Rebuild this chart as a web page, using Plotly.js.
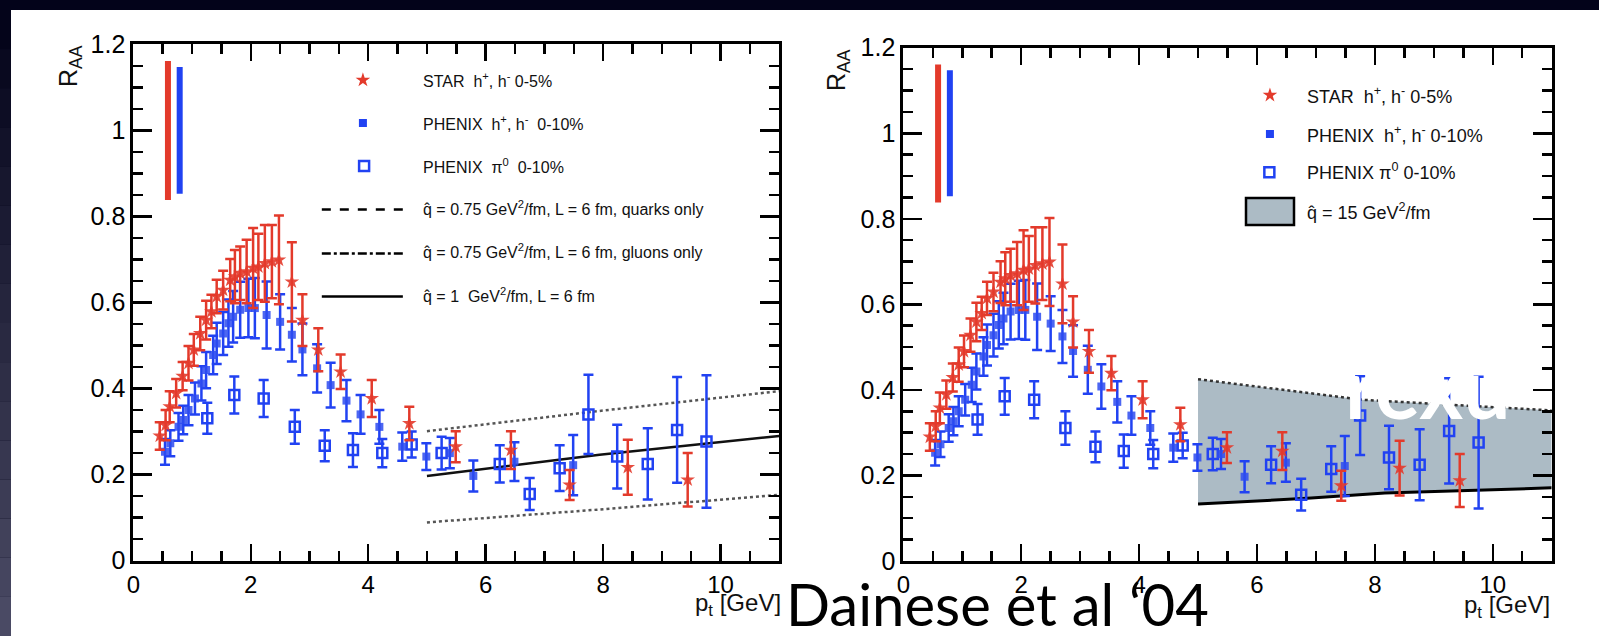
<!DOCTYPE html>
<html>
<head>
<meta charset="utf-8">
<script src="https://cdn.plot.ly/plotly-3.0.1.min.js"></script>
<style>html,body{margin:0;padding:0;background:#03031a;}#chart{width:1599px;height:636px;}</style>
</head>
<body>
<div id="chart"></div>
<script>
// ---------------- DATA ----------------
// STAR h+/h- 0-5%
var starX   = [0.45,0.55,0.62,0.73,0.84,0.94,1.03,1.14,1.24,1.33,1.42,1.53,1.65,1.73,1.82,1.93,2.04,2.13,2.24,2.36,2.48,2.70,2.88,3.15,3.53,4.06,4.70,5.49,6.43,7.43,8.42,9.44];
var starY   = [0.290,0.315,0.358,0.389,0.429,0.459,0.490,0.528,0.559,0.579,0.614,0.629,0.652,0.660,0.668,0.672,0.680,0.683,0.691,0.695,0.699,0.648,0.559,0.490,0.439,0.377,0.319,0.265,0.257,0.176,0.217,0.188];
var starErr = [0.032,0.035,0.036,0.033,0.033,0.040,0.037,0.039,0.045,0.039,0.039,0.045,0.049,0.062,0.062,0.074,0.093,0.077,0.089,0.085,0.103,0.092,0.060,0.050,0.040,0.043,0.039,0.036,0.044,0.035,0.064,0.062];
// PHENIX h+/h- 0-10%
var phxX   = [0.54,0.63,0.77,0.85,0.94,1.05,1.16,1.24,1.36,1.42,1.53,1.62,1.70,1.82,1.96,2.07,2.27,2.50,2.70,2.88,3.13,3.36,3.63,3.87,4.19,4.58,4.99,5.39,5.79,6.49,7.49];
var phxY   = [0.253,0.273,0.311,0.327,0.350,0.377,0.412,0.443,0.478,0.505,0.528,0.552,0.567,0.583,0.587,0.587,0.571,0.555,0.525,0.491,0.447,0.408,0.372,0.340,0.311,0.265,0.242,0.250,0.197,0.230,0.222];
var phxErr = [0.030,0.030,0.032,0.033,0.035,0.037,0.040,0.042,0.045,0.048,0.050,0.055,0.060,0.065,0.068,0.070,0.078,0.064,0.062,0.060,0.056,0.052,0.048,0.045,0.039,0.033,0.031,0.035,0.036,0.045,0.070];
// PHENIX pi0 0-10%
var pi0X   = [1.26,1.72,2.22,2.75,3.26,3.74,4.24,4.74,5.25,6.24,6.75,7.26,7.75,8.24,8.76,9.26,9.76];
var pi0Y   = [0.331,0.385,0.377,0.311,0.267,0.257,0.250,0.270,0.250,0.225,0.155,0.215,0.340,0.242,0.225,0.304,0.277];
var pi0Err = [0.036,0.043,0.043,0.039,0.036,0.039,0.033,0.030,0.038,0.043,0.037,0.053,0.092,0.074,0.083,0.123,0.154];
// normalisation uncertainties (STAR, PHENIX)
var normX   = [0.59, 0.79];
var normLow = [0.838, 0.853];
var normHigh= [1.161, 1.147];
// left panel model curves
var modelX    = [5, 7.94, 11];
var quarksY   = [0.301, 0.348, 0.394];
var gluonsY   = [0.089, 0.119, 0.153];
var q1Y       = [0.197, 0.246, 0.290];
// right panel band qhat = 15 GeV^2/fm
var bandUpX  = [5, 6.05, 6.92, 7.78, 9.52, 11];
var bandUpY  = [0.425, 0.406, 0.392, 0.377, 0.363, 0.352];
var bandLoX  = [5, 6.24, 6.92, 8.17, 8.65, 11];
var bandLoY  = [0.133, 0.143, 0.147, 0.159, 0.161, 0.171];
var xTicks = [0,2,4,6,8,10];
var yTicks = [0,0.2,0.4,0.6,0.8,1,1.2];

// ---------------- STYLE ----------------
var W = 1599, H = 636;
function PX(p){return p/W;}
function PY(p){return 1 - p/H;}
var RED = '#e33a2b', BLUE = '#2142f2';
var FONT = 'Liberation Sans, Arial, sans-serif';

var traces = [];
function addPanel(xa, ya, left){
  traces.push({x:[normX[0],normX[0]], y:[normLow[0],normHigh[0]], xaxis:xa, yaxis:ya, mode:'lines', line:{color:RED,width:6}, hoverinfo:'skip', showlegend:false});
  traces.push({x:[normX[1],normX[1]], y:[normLow[1],normHigh[1]], xaxis:xa, yaxis:ya, mode:'lines', line:{color:BLUE,width:6}, hoverinfo:'skip', showlegend:false});
  if(left){
    traces.push({x:modelX, y:quarksY, xaxis:xa, yaxis:ya, mode:'lines', line:{color:'#555',width:2.5,dash:'dot'}, showlegend:false});
    traces.push({x:modelX, y:gluonsY, xaxis:xa, yaxis:ya, mode:'lines', line:{color:'#555',width:2.5,dash:'dot'}, showlegend:false});
    traces.push({x:modelX, y:q1Y, xaxis:xa, yaxis:ya, mode:'lines', line:{color:'#111',width:2.5}, showlegend:false});
  } else {
    var bx = bandUpX.concat(bandLoX.slice().reverse());
    var by = bandUpY.concat(bandLoY.slice().reverse());
    traces.push({x:bx, y:by, xaxis:xa, yaxis:ya, mode:'lines', fill:'toself', fillcolor:'rgb(172,187,197)', line:{width:0}, showlegend:false});
    traces.push({x:bandUpX, y:bandUpY, xaxis:xa, yaxis:ya, mode:'lines', line:{color:'#333',width:2.5,dash:'dot'}, showlegend:false});
    traces.push({x:bandLoX, y:bandLoY, xaxis:xa, yaxis:ya, mode:'lines', line:{color:'#000',width:3}, showlegend:false});
  }
  traces.push({x:pi0X, y:pi0Y, xaxis:xa, yaxis:ya, mode:'markers', showlegend:false,
    marker:{symbol:'square-open', size:10, color:BLUE, line:{width:2.5,color:BLUE}},
    error_y:{type:'data', array:pi0Err, color:BLUE, thickness:2.5, width:5}});
  traces.push({x:phxX, y:phxY, xaxis:xa, yaxis:ya, mode:'markers', showlegend:false,
    marker:{symbol:'square', size:8, color:'rgba(45,75,240,0.85)'},
    error_y:{type:'data', array:phxErr, color:BLUE, thickness:2.5, width:5}});
  traces.push({x:starX, y:starY, xaxis:xa, yaxis:ya, mode:'markers', showlegend:false,
    marker:{symbol:'star', size:11, color:'rgba(227,58,43,0.9)'},
    error_y:{type:'data', array:starErr, color:RED, thickness:2.5, width:5}});
}
addPanel('x','y',true);
addPanel('x2','y2',false);

// legend symbols (positioned in each panel's data coordinates)
traces.push({x:[3.91], y:[1.117], xaxis:'x', yaxis:'y', mode:'markers', marker:{symbol:'star',size:11,color:RED}, showlegend:false});
traces.push({x:[3.91], y:[1.017], xaxis:'x', yaxis:'y', mode:'markers', marker:{symbol:'square',size:8,color:BLUE}, showlegend:false});
traces.push({x:[3.93], y:[0.917], xaxis:'x', yaxis:'y', mode:'markers', marker:{symbol:'square-open',size:10,color:BLUE,line:{width:2.5,color:BLUE}}, showlegend:false});
traces.push({x:[3.21,4.59], y:[0.816,0.816], xaxis:'x', yaxis:'y', mode:'lines', line:{color:'#000',width:2.5,dash:'dash'}, showlegend:false});
traces.push({x:[3.21,4.59], y:[0.714,0.714], xaxis:'x', yaxis:'y', mode:'lines', line:{color:'#000',width:2.5,dash:'dashdot'}, showlegend:false});
traces.push({x:[3.21,4.59], y:[0.614,0.614], xaxis:'x', yaxis:'y', mode:'lines', line:{color:'#000',width:2.5}, showlegend:false});
traces.push({x:[6.22], y:[1.089], xaxis:'x2', yaxis:'y2', mode:'markers', marker:{symbol:'star',size:11,color:RED}, showlegend:false});
traces.push({x:[6.22], y:[0.998], xaxis:'x2', yaxis:'y2', mode:'markers', marker:{symbol:'square',size:8,color:BLUE}, showlegend:false});
traces.push({x:[6.21], y:[0.909], xaxis:'x2', yaxis:'y2', mode:'markers', marker:{symbol:'square-open',size:10,color:BLUE,line:{width:2.5,color:BLUE}}, showlegend:false});

function xAxis(d0,d1,anchor){
  return {domain:[d0,d1], range:[0,11], anchor:anchor, showgrid:false, zeroline:false,
    showline:true, linecolor:'#000', linewidth:3, mirror:'ticks',
    ticks:'inside', ticklen:17, tickwidth:2.5, tickcolor:'#000',
    tickvals:xTicks, ticktext:xTicks.map(String),
    minor:{dtick:0.5, ticks:'inside', ticklen:10, tickwidth:2.5, tickcolor:'#000'},
    tickfont:{family:FONT, size:24, color:'#000'}, fixedrange:true};
}
function yAxis(d0,d1,anchor){
  return {domain:[d0,d1], range:[0,1.2], anchor:anchor, showgrid:false, zeroline:false,
    showline:true, linecolor:'#000', linewidth:3, mirror:'ticks',
    ticks:'inside', ticklen:19, tickwidth:2.5, tickcolor:'#000',
    tickvals:yTicks, ticktext:yTicks.map(String),
    minor:{dtick:0.05, ticks:'inside', ticklen:10, tickwidth:2.5, tickcolor:'#000'},
    tickfont:{family:FONT, size:25, color:'#000'}, fixedrange:true};
}

var shapes = [];
shapes.push({type:'rect', xref:'paper', yref:'paper', x0:PX(11), x1:1, y0:0, y1:PY(10), fillcolor:'#ffffff', line:{width:0}, layer:'below'});
var N = 16;
for (var i=0;i<N;i++){
  var t = i/(N-1);
  var r = Math.round(4 + t*70), g = Math.round(4 + t*70), b = Math.round(26 + t*74);
  shapes.push({type:'rect', xref:'paper', yref:'paper', x0:0, x1:PX(11), y0:PY(10+ (i+1)*(626/N)), y1:PY(10 + i*(626/N)), fillcolor:'rgb('+r+','+g+','+b+')', line:{width:0}, layer:'below'});
}
shapes.push({type:'rect', xref:'paper', yref:'paper', x0:PX(1246), x1:PX(1294), y0:PY(225), y1:PY(198), fillcolor:'rgb(172,187,197)', line:{color:'#000',width:2.5}});

var ann = [];
function txt(t,px,py,size,opts){
  var a = {text:t, xref:'paper', yref:'paper', x:PX(px), y:PY(py), showarrow:false,
    xanchor:'left', yanchor:'middle', font:{family:FONT, size:size, color:'#111'}};
  for (var k in (opts||{})) a[k]=opts[k];
  ann.push(a);
}
txt('STAR  h<sup>+</sup>, h<sup>-</sup> 0-5%', 421, 80, 16);
txt('PHENIX  h<sup>+</sup>, h<sup>-</sup>  0-10%', 421, 123, 16);
txt('PHENIX  π<sup>0</sup>  0-10%', 421, 166, 16);
txt('q\u0302 = 0.75 GeV<sup>2</sup>/fm, L = 6 fm, quarks only', 421, 208, 16);
txt('q\u0302 = 0.75 GeV<sup>2</sup>/fm, L = 6 fm, gluons only', 421, 251, 16);
txt('q\u0302 = 1  GeV<sup>2</sup>/fm, L = 6 fm', 421, 295, 16);
txt('STAR  h<sup>+</sup>, h<sup>-</sup> 0-5%', 1305, 95, 18);
txt('PHENIX  h<sup>+</sup>, h<sup>-</sup> 0-10%', 1305, 134, 18);
txt('PHENIX π<sup>0</sup> 0-10%', 1305, 172, 18);
txt('q\u0302 = 15 GeV<sup>2</sup>/fm', 1305, 211, 18);
txt('R<sub>AA</sub>', 70, 66, 25, {xanchor:'center', textangle:-90});
txt('R<sub>AA</sub>', 838, 70, 25, {xanchor:'center', textangle:-90});
txt('p<sub>t</sub> [GeV]', 738, 604, 24, {xanchor:'center'});
txt('p<sub>t</sub> [GeV]', 1507, 606, 24, {xanchor:'center'});
txt('rexu', 1343, 386, 84, {font:{family:'Lato, sans-serif', size:84, color:'#ffffff', weight:'bold'}});
txt('Dainese et al \u201804', 784, 603, 58, {font:{family:'Lato, Open Sans, sans-serif', size:58, color:'#000'}});

var layout = {
  width:W, height:H, autosize:false,
  margin:{l:0,r:0,t:0,b:0,pad:0},
  paper_bgcolor:'#03031a', plot_bgcolor:'#ffffff',
  showlegend:false,
  xaxis: xAxis(PX(133.3), PX(779.3), 'y'),
  yaxis: yAxis(PY(560.7), PY(44.3), 'x'),
  xaxis2: xAxis(PX(903.3), PX(1551.7), 'y2'),
  yaxis2: yAxis(PY(561), PY(47.7), 'x2'),
  shapes: shapes,
  annotations: ann
};
Plotly.newPlot('chart', traces, layout, {displayModeBar:false, staticPlot:true});
</script>
</body>
</html>
